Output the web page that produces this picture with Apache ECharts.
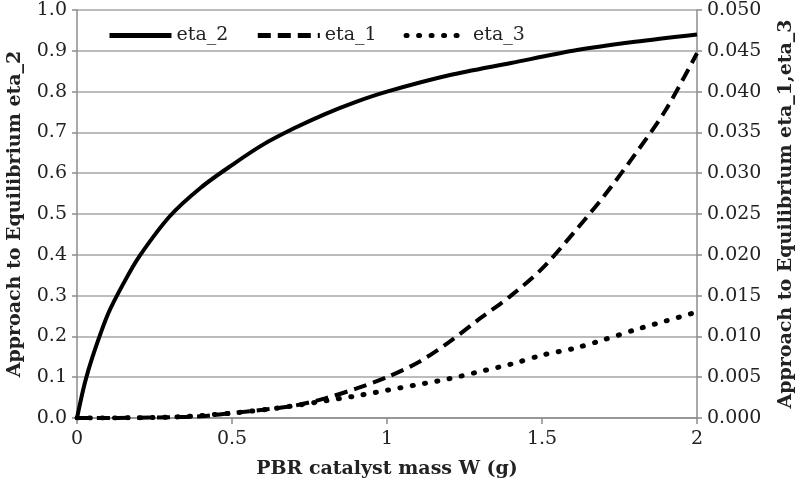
<!DOCTYPE html>
<html><head><meta charset="utf-8">
<script src="https://cdn.jsdelivr.net/npm/echarts@6/dist/echarts.min.js"></script>
<style>html,body{margin:0;padding:0;background:#fff}#c{width:800px;height:485px}</style>
</head><body><div id="c"></div>
<script>
const W2   = [0, 0.025, 0.05, 0.1, 0.15, 0.2, 0.3, 0.4, 0.5, 0.6, 0.7, 0.8, 0.9, 1.0, 1.2, 1.4, 1.6, 1.8, 2.0];
const eta2 = [0, 0.085, 0.15, 0.255, 0.33, 0.395, 0.495, 0.565, 0.62, 0.67, 0.71, 0.745, 0.775, 0.80, 0.84, 0.87, 0.90, 0.922, 0.94];
const W13  = [0, 0.2, 0.3, 0.4, 0.5, 0.6, 0.7, 0.8, 0.9, 1.0, 1.1, 1.2, 1.3, 1.4, 1.5, 1.6, 1.7, 1.8, 1.9, 2.0];
const eta1 = [0, 0.00003, 0.0001, 0.0002, 0.0006, 0.0010, 0.0015, 0.0024, 0.0036, 0.0050, 0.0068, 0.0093, 0.0122, 0.0150, 0.0183, 0.0226, 0.0272, 0.0323, 0.0378, 0.0447];
const eta3 = [0, 0.00003, 0.0001, 0.0003, 0.0006, 0.0010, 0.0015, 0.0021, 0.0027, 0.0034, 0.0041, 0.0048, 0.0057, 0.0066, 0.0077, 0.0085, 0.0096, 0.0108, 0.0119, 0.0130];
const xTicks = ['0', '0.5', '1', '1.5', '2'];

const FONT = '"DejaVu Serif", serif';
const pairs = (xs, ys) => xs.map((x, i) => [x, ys[i]]);
const chart = echarts.init(document.getElementById('c'), null, {renderer: 'canvas'});
const axisLine = {show: true, lineStyle: {color: '#8c8c8c', width: 1.5}};
const label = {color: '#222', fontFamily: FONT, fontSize: 19};
const nameStyle = {color: '#222', fontFamily: FONT, fontSize: 19, fontWeight: 'bold'};
chart.setOption({
  animation: false,
  backgroundColor: '#fff',
  grid: {left: 77, right: 103, top: 10, bottom: 67, outerBoundsMode: 'none', containLabel: false},
  legend: {
    left: 102, top: 21, itemWidth: 62, itemHeight: 14, itemGap: 27,
    itemStyle: {opacity: 0},
    lineStyle: {width: 5},
    textStyle: {color: '#222', fontFamily: FONT, fontSize: 19},
    data: ['eta_2', 'eta_1', 'eta_3']
  },
  xAxis: {
    type: 'value', min: 0, max: 2, interval: 0.5,
    name: 'PBR catalyst mass W (g)', nameLocation: 'middle', nameGap: 42, nameTextStyle: nameStyle,
    axisLine: axisLine, axisTick: {show: true, length: 6, lineStyle: {color: '#8c8c8c', width: 1.5}},
    axisLabel: Object.assign({margin: 12, formatter: v => xTicks[Math.round(v / 0.5)]}, label),
    splitLine: {show: false}
  },
  yAxis: [{
    type: 'value', min: 0, max: 1, interval: 0.1, position: 'left',
    name: 'Approach to Equilibrium eta_2', nameLocation: 'middle', nameGap: 52, nameTextStyle: nameStyle,
    axisLine: axisLine, axisTick: {show: true, length: 5, lineStyle: {color: '#8c8c8c', width: 1.5}},
    axisLabel: Object.assign({margin: 10, formatter: v => v.toFixed(1)}, label),
    splitLine: {show: true, lineStyle: {color: '#a6a6a6', width: 1.5}}
  }, {
    type: 'value', min: 0, max: 0.05, interval: 0.005, position: 'right',
    name: 'Approach to Equilibrium eta_1,eta_3', nameLocation: 'middle', nameGap: 80, nameTextStyle: nameStyle,
    axisLine: axisLine, axisTick: {show: true, length: 5, lineStyle: {color: '#8c8c8c', width: 1.5}},
    axisLabel: Object.assign({margin: 10, formatter: v => v.toFixed(3)}, label),
    splitLine: {show: false}
  }],
  series: [{
    name: 'eta_2', type: 'line', yAxisIndex: 0, smooth: 0.3, symbol: 'none',
    data: pairs(W2, eta2),
    lineStyle: {color: '#000', width: 4}, itemStyle: {color: '#000'}
  }, {
    name: 'eta_1', type: 'line', yAxisIndex: 1, smooth: 0.3, symbol: 'none',
    data: pairs(W13, eta1),
    lineStyle: {color: '#000', width: 4, type: [13, 7]}, itemStyle: {color: '#000'}
  }, {
    name: 'eta_3', type: 'line', yAxisIndex: 1, smooth: 0.3, symbol: 'none',
    data: pairs(W13, eta3),
    lineStyle: {color: '#000', width: 5, type: [1, 11.5], cap: 'round'}, itemStyle: {color: '#000'}
  }]
});
</script></body></html>
